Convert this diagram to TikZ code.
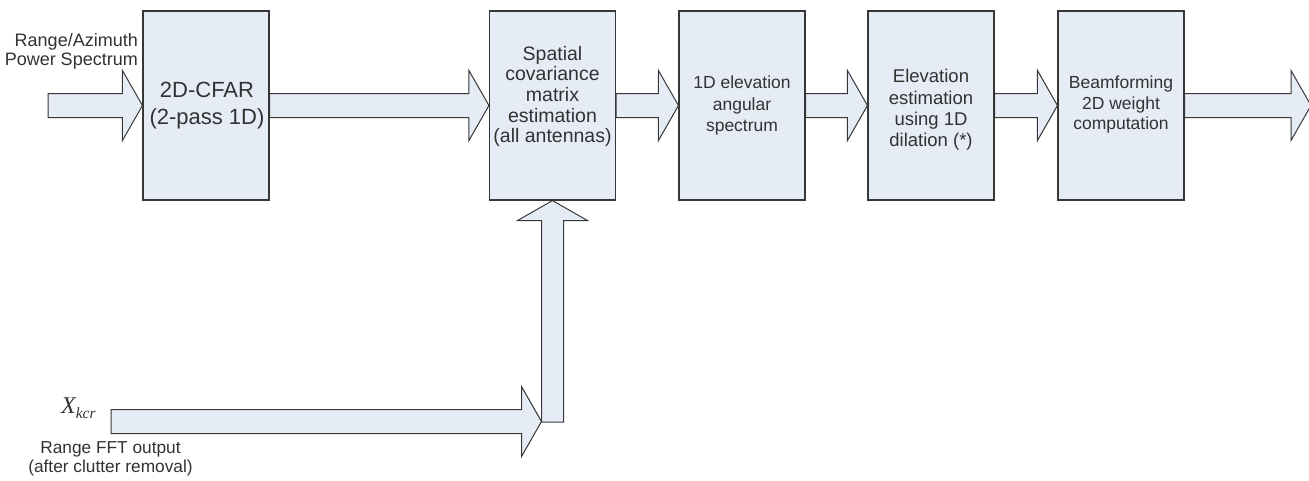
\documentclass[tikz,border=0pt]{standalone}
\usepackage{fontspec}
\setmainfont{Liberation Sans}
\newfontfamily\timesf{Liberation Serif}
\usetikzlibrary{calc}
\definecolor{boxfill}{RGB}{230,236,246}
\definecolor{edgec}{RGB}{55,55,55}
\definecolor{txt}{RGB}{50,50,50}
\newcommand{\harrow}[2]{%
  \draw[barrow] ($(#1)+(0,12)$) -- ($(#2)+(-20,12)$) -- ($(#2)+(-20,35)$) -- (#2)
    -- ($(#2)+(-20,-35)$) -- ($(#2)+(-20,-12)$) -- ($(#1)+(0,-12)$) -- cycle;}
\newcommand{\varrow}[2]{%
  \draw[barrow] ($(#1)+(-11,0)$) -- ($(#2)+(-11,-20)$) -- ($(#2)+(-35,-20)$) -- (#2)
    -- ($(#2)+(35,-20)$) -- ($(#2)+(11,-20)$) -- ($(#1)+(11,0)$) -- cycle;}
\begin{document}
\begin{tikzpicture}[x=1pt,y=1pt,
  box/.style={draw=edgec, fill=boxfill, line width=1.1pt, minimum width=126pt, minimum height=189pt, inner sep=0pt},
  btext/.style={text=txt, align=center, inner sep=0pt, font=\fontsize{18}{21}\selectfont},
  lab/.style={text=txt, inner sep=0pt, font=\fontsize{18}{19}\selectfont},
  barrow/.style={draw=edgec, fill=boxfill, line width=1pt, line join=miter}]
\useasboundingbox (0,0) rectangle (1309,-480);

% boxes
\node[box] (b1) at (206,-105.5) {};
\node[box] (b2) at (552.5,-105.5) {};
\node[box] (b3) at (742,-105.5) {};
\node[box] (b4) at (931,-105.5) {};
\node[box] (b5) at (1121,-105.5) {};

% box texts
\node[btext, font=\fontsize{22}{27}\selectfont] (t1) at (207,-106) {2D-CFAR\\(2-pass 1D)};
\node[btext, font=\fontsize{19.5}{20.7}\selectfont] (t2) at (552.5,-96.5) {Spatial\\covariance\\matrix\\estimation\\(all antennas)};
\node[btext, font=\fontsize{17.5}{21.5}\selectfont] (t3) at (742,-105.5) {1D elevation\\angular\\spectrum};
\node[btext, font=\fontsize{18.5}{21.3}\selectfont] (t4) at (931,-110) {Elevation\\estimation\\using 1D\\dilation (*)};
\node[btext, font=\fontsize{17.5}{20.5}\selectfont] (t5) at (1121,-104.5) {Beamforming\\2D weight\\computation};

% free ends
\coordinate (in1) at (48,-105.5);
\coordinate (out) at (1311,-105.5);
\coordinate (in2) at (111,-421.5);
\coordinate (vb) at (552.5,-422);
\coordinate (jn) at ($(vb)+(-11,0.5)$);

% arrows
\harrow{in1}{b1.west}
\harrow{b1.east}{b2.west}
\harrow{b2.east}{b3.west}
\harrow{b3.east}{b4.west}
\harrow{b4.east}{b5.west}
\harrow{b5.east}{out}
\varrow{vb}{b2.south}
\harrow{in2}{jn}

% labels
\node[lab, align=right, anchor=east] (l1) at (138,-51.5) {Range/Azimuth\\Power Spectrum};
\node[text=txt, inner sep=0pt, anchor=base west] (xk) at (61,-413)
  {\timesf\itshape\fontsize{24}{24}\selectfont X\raisebox{-5pt}{\fontsize{15.5}{15.5}\selectfont kcr}};
\node[lab, align=center, font=\fontsize{17.3}{18.5}\selectfont] (l2) at (110.5,-459) {Range FFT output\\(after clutter removal)};
\end{tikzpicture}
\end{document}
